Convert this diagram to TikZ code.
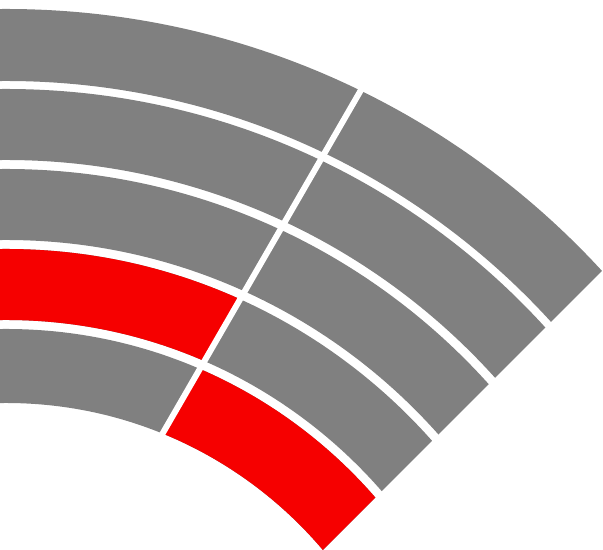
\documentclass[tikz,border=0pt]{standalone}
\usepackage{tikz}
\usepackage{xcolor}
\definecolor{ringGray}{RGB}{128,128,128}
\definecolor{ringRed}{RGB}{246,0,0}

\begin{document}
\begin{tikzpicture}[
  x=0.02cm, y=0.02cm,
  band/.style={fill=ringGray, even odd rule},
  hot/.style={fill=ringRed, even odd rule},
  cut/.style={draw=white, line width=0.12cm},
]
\useasboundingbox (0,0) rectangle (603,550);
\clip (0,0) rectangle (603,550);
\clip (0,-323) -- (923,600) -- (0,600) -- cycle;

% centre of the rings and the straight cut across them
\coordinate (O) at (6,-268);
\coordinate (cutA) at (-41,-236);
\coordinate (cutB) at (461.5,634);

% grey bands, inner and outer radius
\foreach \rin/\rout in {415/489, 498/569, 578/649, 658/729, 737/809}
  \path[band] (O) circle (\rin) (O) circle (\rout);

% red pieces on either side of the cut
\begin{scope}
  \clip (cutA) -- (cutB) -- (-100,634) -- (-100,-236) -- cycle;
  \path[hot] (O) circle (498) (O) circle (569);
\end{scope}
\begin{scope}
  \clip (cutA) -- (cutB) -- (1000,634) -- (1000,-236) -- cycle;
  \path[hot] (O) circle (415) (O) circle (489);
\end{scope}

\draw[cut] (cutA) -- (cutB);
\end{tikzpicture}
\end{document}
